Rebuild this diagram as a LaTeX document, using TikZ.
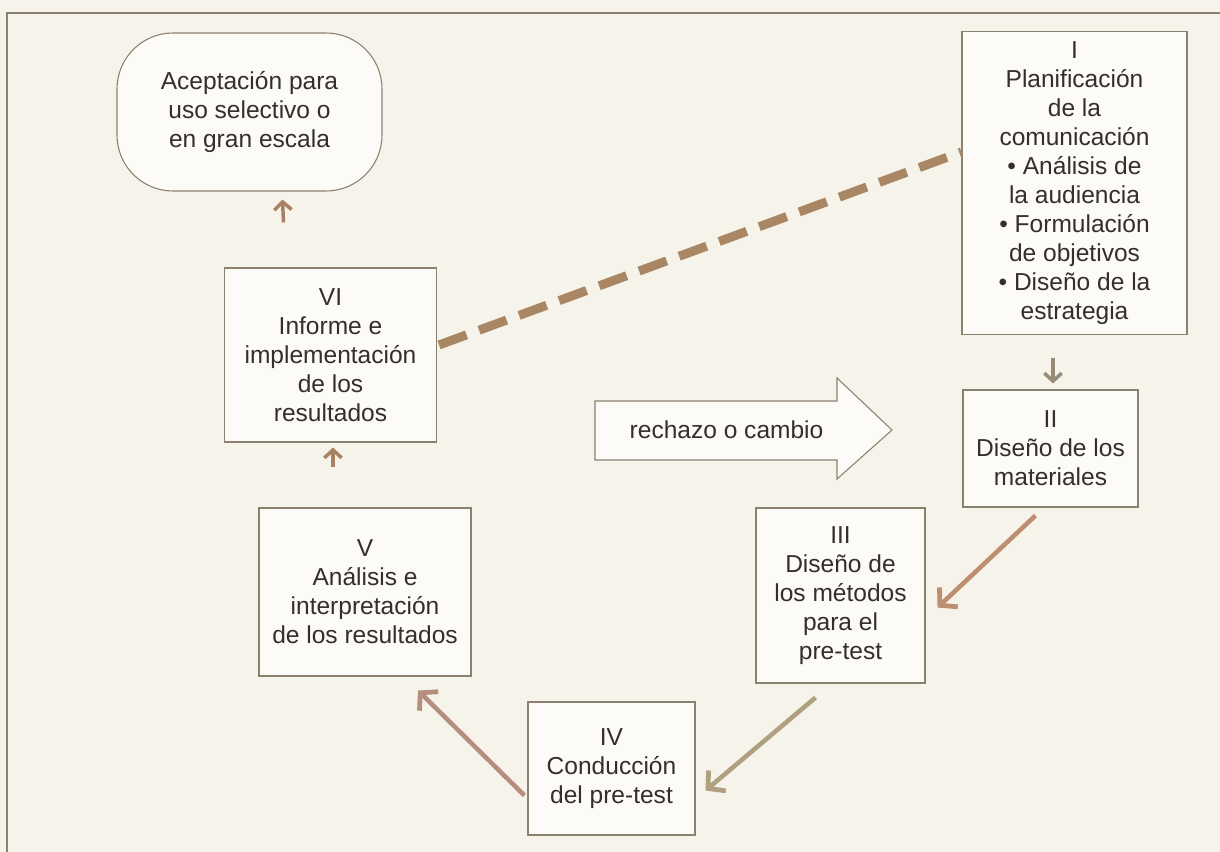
\documentclass[tikz,border=0pt]{standalone}
\usepackage{fontspec}
\setmainfont{Liberation Sans}
\usetikzlibrary{arrows.meta,calc}
\definecolor{bg}{RGB}{246,243,234}
\definecolor{boxfill}{RGB}{252,251,247}
\definecolor{boxline}{RGB}{140,128,112}
\definecolor{txt}{RGB}{50,47,45}
\definecolor{brownA}{RGB}{168,128,98}
\definecolor{grayA}{RGB}{150,140,120}
\definecolor{arrB}{RGB}{190,142,112}
\definecolor{arrC}{RGB}{175,160,128}
\definecolor{arrD}{RGB}{182,142,125}
\definecolor{dashC}{RGB}{170,135,100}
\tikzset{
  x=0.75pt, y=-0.75pt,
  every node/.style={font=\fontsize{18.4}{21.8}\selectfont, text=txt},
  stage/.style={draw=boxline, line width=0.8pt, fill=boxfill, align=center, inner sep=0pt},
  shortarr/.style={draw=brownA, line width=2.6pt, -{Straight Barb[length=6pt,width=13pt,line width=2.6pt]}},
  longarr/.style={line width=3.4pt, -{Straight Barb[length=9pt,width=20pt,line width=3.6pt]}}
}
\begin{document}
\begin{tikzpicture}
\fill[bg] (0,0) rectangle (1220,852);
\useasboundingbox (0,0) rectangle (1220,852);
\draw[boxline, line width=0.8pt] (1220,13) -- (7,13) -- (7,852);

\node[stage, rounded corners=42pt, minimum width=0.75*265pt, minimum height=0.75*158pt] (acep) at (249.5,112)
  {Aceptación para\\uso selectivo o\\en gran escala};
\node[stage, minimum width=0.75*225pt, minimum height=0.75*303pt] (I) at (1074.5,183)
  {I\\Planificación\\de la\\comunicación\\• Análisis de\\la audiencia\\• Formulación\\de objetivos\\• Diseño de la\\estrategia};
\node[stage, minimum width=0.75*175pt, minimum height=0.75*117pt] (II) at (1050.5,448.5)
  {II\\Diseño de los\\materiales};
\node[stage, minimum width=0.75*169pt, minimum height=0.75*175pt] (III) at (840.5,595.5)
  {III\\Diseño de\\los métodos\\para el\\pre-test};
\node[stage, minimum width=0.75*167pt, minimum height=0.75*133pt] (IV) at (611.5,768.5)
  {IV\\Conducción\\del pre-test};
\node[stage, minimum width=0.75*212pt, minimum height=0.75*168pt] (V) at (365,592)
  {V\\Análisis e\\interpretación\\de los resultados};
\node[stage, minimum width=0.75*212pt, minimum height=0.75*174pt] (VI) at (330.5,355)
  {VI\\Informe e\\implementación\\de los\\resultados};

% block arrow
\draw[boxline, line width=0.8pt, fill=boxfill]
  (595,401) -- (837,401) -- (837,378) -- (892,430) -- (837,479) -- (837,460) -- (595,460) -- cycle;
\node[anchor=west] (rech) at (625,430) {rechazo o cambio};

% dashed connector
\draw[dashC, line width=6.75pt, dash pattern=on 22pt off 10pt]
  ($(VI.east)+(2,-10)$) -- ($(I.west)+(0,-31)$);

% arrows
\draw[shortarr] ($(VI.north)+(-47,-45)$) -- ($(acep.south)+(33,8)$);
\draw[shortarr] ($(V.north)+(-32,-40)$) -- ($(VI.south)+(2.5,5)$);
\draw[shortarr, draw=grayA] ($(I.south)+(-21.5,23)$) -- ($(II.north)+(2.5,-6)$);
\draw[longarr, draw=arrB] ($(II.south)+(-15,8)$) -- ($(III.east)+(12,12)$);
\draw[longarr, draw=arrC] ($(III.south)+(-25,14)$) -- ($(IV.east)+(10,22)$);
\draw[longarr, draw=arrD] ($(IV.west)+(-3,27)$) -- ($(V.south)+(53,14)$);
\end{tikzpicture}
\end{document}
